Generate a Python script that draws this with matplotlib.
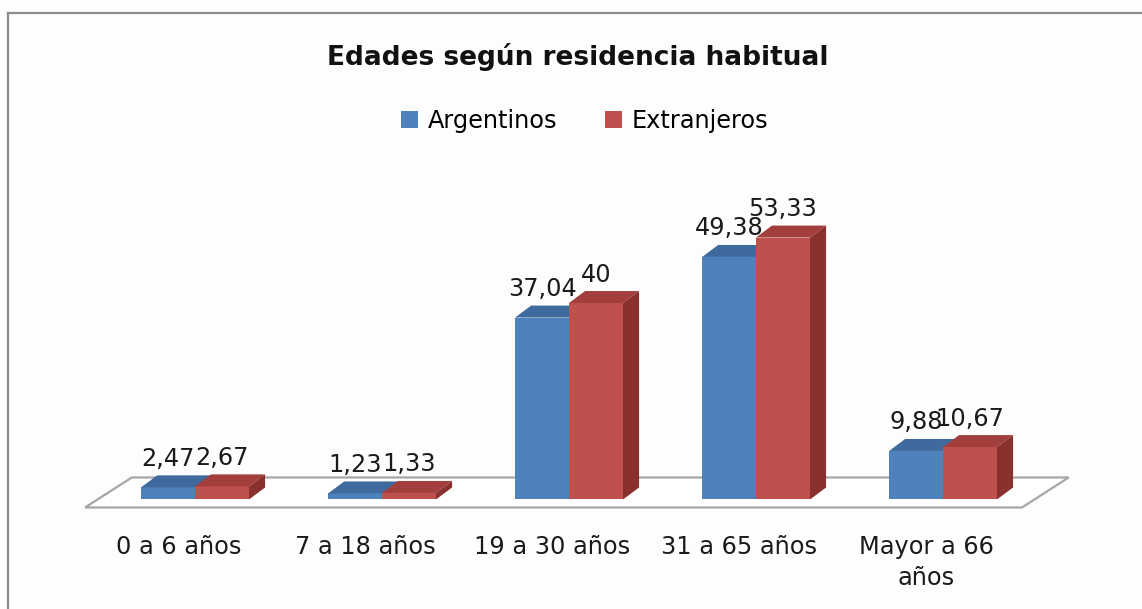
import matplotlib
matplotlib.use("Agg")
import matplotlib.pyplot as plt
from matplotlib.patches import Polygon
from matplotlib.lines import Line2D

categories = ["0 a 6 años", "7 a 18 años", "19 a 30 años", "31 a 65 años", "Mayor a 66\naños"]
argentinos = [2.47, 1.23, 37.04, 49.38, 9.88]
extranjeros = [2.67, 1.33, 40, 53.33, 10.67]
series_names = ["Argentinos", "Extranjeros"]
value_labels_arg = ["2,47", "1,23", "37,04", "49,38", "9,88"]
value_labels_ext = ["2,67", "1,33", "40", "53,33", "10,67"]

W, H = 1142, 609
fig = plt.figure(figsize=(W / 100, H / 100), dpi=100, facecolor="#fdfdfd")
plt.rcParams['font.family'] = ['DejaVu Sans']

ax = fig.add_axes([0, 0, 1, 1])
ax.set_facecolor("none")
ax.axis("off")
ax.set_xlim(-1.043, 5.064)
ax.set_ylim(-22.3, 101.7)

# styling / geometry constants
bw = 0.289          # bar width (category units)
ddx = 0.086         # depth x offset
ddy = 2.44          # depth y offset
fs = 17.3
front = {"Argentinos": "#4f81bd", "Extranjeros": "#c0504d"}
top = {"Argentinos": "#3e6a9e", "Extranjeros": "#a23f3c"}
side = {"Argentinos": "#345a87", "Extranjeros": "#8a302e"}

# floor
fl_y0, fl_y1 = -1.63, 4.48
fl_x0, fl_x1, fl_dx = -0.588, 4.422, 0.25
floor = Polygon([(fl_x0, fl_y0), (fl_x1, fl_y0), (fl_x1 + fl_dx, fl_y1), (fl_x0 + fl_dx, fl_y1)],
                closed=True, facecolor="white", edgecolor="#a6a6a6", lw=1.6, zorder=1)
ax.add_patch(floor)

x = list(range(len(categories)))
handles = []
for k, (name, vals, labs) in enumerate([("Argentinos", argentinos, value_labels_arg),
                                         ("Extranjeros", extranjeros, value_labels_ext)]):
    centers = [i + (-0.144 if k == 0 else 0.144) for i in x]
    z = 2 + k
    bars = ax.bar(centers, vals, width=bw, color=front[name], zorder=z, label=name,
                  linewidth=0)
    handles.append(bars)
    for c, v, lab in zip(centers, vals, labs):
        x0, x1 = c - bw / 2, c + bw / 2
        ax.add_patch(Polygon([(x0, v), (x1, v), (x1 + ddx, v + ddy), (x0 + ddx, v + ddy)],
                             closed=True, facecolor=top[name], edgecolor="none", zorder=z))
        ax.add_patch(Polygon([(x1, 0), (x1 + ddx, ddy), (x1 + ddx, v + ddy), (x1, v)],
                             closed=True, facecolor=side[name], edgecolor="none", zorder=z))
        ax.annotate(lab, (c, v), xytext=(0, 20.5), textcoords="offset points",
                    ha="center", va="center", fontsize=fs, color="#1a1a1a", zorder=10)

for i, cat in enumerate(categories):
    ax.text(i - 0.09, -7.2, cat, ha="center", va="top", fontsize=fs,
            color="#1a1a1a", linespacing=1.38)

fig.text(578 / W, 1 - 57 / H, "Edades según residencia habitual", ha="center", va="center",
         fontsize=19, fontweight="bold", color="#111111")

leg = ax.legend(handles=handles, labels=series_names, loc="center",
                bbox_to_anchor=(585 / W, 1 - 121 / H), bbox_transform=fig.transFigure,
                ncol=2, frameon=False, fontsize=fs, handlelength=0.7, handleheight=0.7,
                handletextpad=0.4, columnspacing=2.0)

# chart border
fig.add_artist(Line2D([7.5 / W, 7.5 / W], [0, 1 - 12.5 / H], transform=fig.transFigure,
                      color="#8a8a8a", lw=1.6))
fig.add_artist(Line2D([7.5 / W, 1], [1 - 12.5 / H, 1 - 12.5 / H], transform=fig.transFigure,
                      color="#8a8a8a", lw=1.6))

fig.savefig("out.png", dpi=100, facecolor=fig.get_facecolor())
